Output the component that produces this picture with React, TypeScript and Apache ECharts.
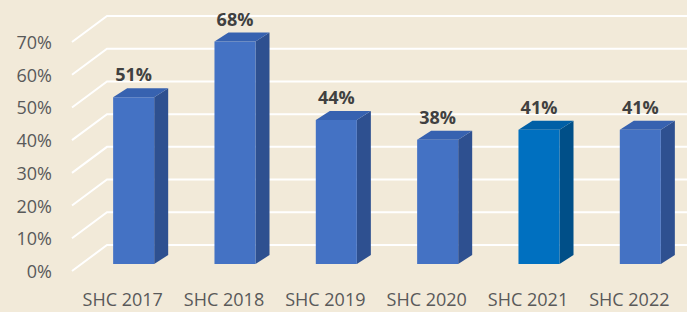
import React, { useEffect, useRef } from "react";
import * as echarts from "echarts";

const categories = ["SHC 2017", "SHC 2018", "SHC 2019", "SHC 2020", "SHC 2021", "SHC 2022"];
const values = [51, 68, 44, 38, 41, 41];
const highlightIndex = 4;
const yTicks = [0, 10, 20, 30, 40, 50, 60, 70];

const BG = "#f2ead9";
const FONT = "'Open Sans', sans-serif";

export default function App() {
  const ref = useRef<HTMLDivElement>(null);
  useEffect(() => {
    document.body.style.margin = "0";
    if (!ref.current) return;
    const chart = echarts.init(ref.current, undefined, { renderer: "svg" });
    const wallDx = 35;
    const wallDy = -26;
    const option: any = {
      animation: false,
      backgroundColor: BG,
      grid: { left: 72, right: 7, top: 42, bottom: 41 },
      xAxis: {
        type: "category",
        data: categories,
        axisLine: { show: false },
        axisTick: { show: false },
        splitLine: { show: false },
        axisLabel: { color: "#595959", fontSize: 18, fontFamily: FONT, margin: 19, interval: 0, hideOverlap: false },
      },
      yAxis: {
        type: "value",
        min: 0,
        max: 70,
        interval: 10,
        axisLine: { show: false },
        axisTick: { show: false },
        splitLine: { show: false },
        axisLabel: { color: "#595959", fontSize: 18, fontFamily: FONT, margin: 20, formatter: "{value}%" },
      },
      series: [
        {
          type: "custom",
          z: 1,
          silent: true,
          data: yTicks.map((v) => [0, v]),
          renderItem: (params: any, api: any) => {
            const cs = params.coordSys;
            const y = api.coord([0, api.value(1)])[1];
            return {
              type: "polyline",
              shape: {
                points: [
                  [cs.x, y],
                  [cs.x + wallDx, y + wallDy],
                  [cs.x + cs.width + wallDx, y + wallDy],
                ],
              },
              style: { stroke: "#ffffff", lineWidth: 2, fill: null },
            };
          },
        },
        {
          type: "custom",
          z: 2,
          data: values.map((v, i) => [i, v]),
          renderItem: (params: any, api: any) => {
            const idx = api.value(0);
            const v = api.value(1);
            const base = api.coord([idx, 0]);
            const top = api.coord([idx, v]);
            const band = api.size([1, 0])[0];
            const w = band * 0.405;
            const dx = 14;
            const dy = -9;
            const x0 = base[0] - band * 0.094;
            const yb = base[1] - 7;
            const yt = top[1] - 7;
            const hl = idx === highlightIndex;
            const front = hl ? "#0070c0" : "#4472c4";
            const side = hl ? "#004f88" : "#2e5090";
            const topC = hl ? "#005fa6" : "#3762b0";
            return {
              type: "group",
              children: [
                {
                  type: "polygon",
                  shape: { points: [[x0 + w, yt], [x0 + w + dx, yt + dy], [x0 + w + dx, yb + dy], [x0 + w, yb]] },
                  style: { fill: side },
                },
                {
                  type: "polygon",
                  shape: { points: [[x0, yt], [x0 + dx, yt + dy], [x0 + w + dx, yt + dy], [x0 + w, yt]] },
                  style: { fill: topC },
                },
                {
                  type: "rect",
                  shape: { x: x0, y: yt, width: w, height: yb - yt },
                  style: { fill: front },
                },
                {
                  type: "text",
                  x: x0 + w / 2,
                  y: yt + dy - 5,
                  style: {
                    text: v + "%",
                    fill: "#404040",
                    font: "bold 18px 'Open Sans', sans-serif",
                    align: "center",
                    verticalAlign: "bottom",
                  },
                },
              ],
            };
          },
        },
      ],
    };
    chart.setOption(option);
    return () => chart.dispose();
  }, []);
  return <div ref={ref} style={{ width: 687, height: 312 }} />;
}
